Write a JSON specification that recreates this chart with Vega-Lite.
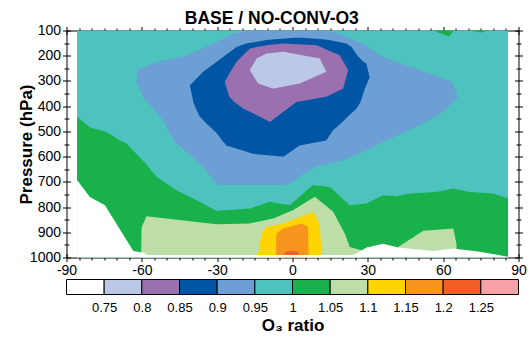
{
"$schema":"https://vega.github.io/schema/vega-lite/v6.json",
"padding":{"left":16.5,"top":9.5,"right":0,"bottom":0},
"title":{"text":"BASE / NO-CONV-O3","fontSize":17.5,"fontWeight":"bold","font":"Liberation Sans","anchor":"middle","offset":-4,"color":"black"},
"config":{"view":{"stroke":null},"axis":{"grid":false,"tickColor":"black","domainColor":"black","labelColor":"black","titleColor":"black","labelFont":"Liberation Sans","titleFont":"Liberation Sans","tickWidth":1,"domainWidth":1,"zindex":1,"labelOverlap":false,"labelBound":false,"labelFlush":false}},
"spacing":22,
"bounds":"flush",
"resolve":{"scale":{"x":"independent","y":"independent"}},
"datasets":{
"teal":[{"lat":-85.8,"top":100,"bot":1000,"v":0.975,"g":"t"},{"lat":85.8,"top":100,"bot":1000,"v":0.975,"g":"t"}],
"blue":[{"p":100,"l":-15.8,"r":14.5,"v":0.925},{"p":107,"l":-21,"r":16,"v":0.925},{"p":113,"l":-23.8,"r":18.5,"v":0.925},{"p":153,"l":-31.7,"r":28,"v":0.925},{"p":199,"l":-42.3,"r":35,"v":0.925},{"p":226,"l":-54.3,"r":41.6,"v":0.925},{"p":251,"l":-61,"r":49,"v":0.925},{"p":257,"l":-61.5,"r":50.7,"v":0.925},{"p":303,"l":-62.1,"r":63.3,"v":0.925},{"p":363,"l":-59.5,"r":66,"v":0.925},{"p":422,"l":-54.4,"r":60,"v":0.925},{"p":456,"l":-51.5,"r":54.3,"v":0.925},{"p":469,"l":-50.8,"r":52,"v":0.925},{"p":512,"l":-48.5,"r":42.7,"v":0.925},{"p":548,"l":-46.3,"r":34.8,"v":0.925},{"p":575,"l":-43,"r":29.5,"v":0.925},{"p":614,"l":-38.5,"r":20.2,"v":0.925},{"p":641,"l":-35.7,"r":8.9,"v":0.925},{"p":680,"l":-32.5,"r":2.8,"v":0.925},{"p":700,"l":-31,"r":0,"v":0.925},{"p":712,"l":-29.5,"r":-2,"v":0.925}],
"dkblue":[{"p":129,"l":1,"r":4,"v":0.875},{"p":135,"l":-7,"r":12,"v":0.875},{"p":138,"l":-10.4,"r":14.5,"v":0.875},{"p":152,"l":-18.5,"r":21.4,"v":0.875},{"p":165,"l":-22.3,"r":23.5,"v":0.875},{"p":200,"l":-27,"r":25.9,"v":0.875},{"p":225,"l":-30.3,"r":28.3,"v":0.875},{"p":231,"l":-31.1,"r":29.4,"v":0.875},{"p":264,"l":-35.6,"r":30.2,"v":0.875},{"p":285,"l":-37.7,"r":30.7,"v":0.875},{"p":317,"l":-40.9,"r":29.4,"v":0.875},{"p":330,"l":-40.6,"r":28.8,"v":0.875},{"p":383,"l":-39.5,"r":27.1,"v":0.875},{"p":409,"l":-38.5,"r":25.5,"v":0.875},{"p":440,"l":-37,"r":22.2,"v":0.875},{"p":470,"l":-34.2,"r":19.1,"v":0.875},{"p":495,"l":-31.4,"r":16.2,"v":0.875},{"p":505,"l":-30.3,"r":15.5,"v":0.875},{"p":536,"l":-28,"r":13.4,"v":0.875},{"p":548,"l":-27,"r":7,"v":0.875},{"p":556,"l":-26.4,"r":2.8,"v":0.875},{"p":570,"l":-21.7,"r":0.8,"v":0.875},{"p":589,"l":-15.8,"r":-1.9,"v":0.875},{"p":600,"l":-4.5,"r":-3.5,"v":0.875}],
"purple":[{"p":152,"l":-4,"r":-3.4,"v":0.825},{"p":158,"l":-10.4,"r":9.6,"v":0.825},{"p":171,"l":-17,"r":12.6,"v":0.825},{"p":198,"l":-19.7,"r":18.8,"v":0.825},{"p":224,"l":-22.3,"r":20.3,"v":0.825},{"p":257,"l":-24.3,"r":22.2,"v":0.825},{"p":303,"l":-27,"r":20.9,"v":0.825},{"p":330,"l":-26.2,"r":20.2,"v":0.825},{"p":363,"l":-25.2,"r":13.5,"v":0.825},{"p":383,"l":-23.2,"r":1.6,"v":0.825},{"p":409,"l":-19.6,"r":-1.9,"v":0.825},{"p":440,"l":-13.4,"r":-6,"v":0.825},{"p":462,"l":-9.2,"r":-8.8,"v":0.825}],
"lav":[{"p":184,"l":-4,"r":-3.4,"v":0.775},{"p":191,"l":-10.4,"r":0.1,"v":0.775},{"p":211,"l":-14.3,"r":10.9,"v":0.775},{"p":257,"l":-17,"r":13.1,"v":0.775},{"p":264,"l":-16.6,"r":13.5,"v":0.775},{"p":310,"l":-13.7,"r":2.9,"v":0.775},{"p":330,"l":-7.9,"r":-7.5,"v":0.775}],
"green":[
{"g":"g1","lat":-85.8,"top":441,"bot":1000,"v":1.025},{"g":"g1","lat":-80.7,"top":485,"bot":1000,"v":1.025},{"g":"g1","lat":-74.1,"top":502,"bot":1000,"v":1.025},{"g":"g1","lat":-68.8,"top":535,"bot":1000,"v":1.025},{"g":"g1","lat":-66.1,"top":548,"bot":1000,"v":1.025},{"g":"g1","lat":-58.3,"top":629,"bot":1000,"v":1.025},{"g":"g1","lat":-54.2,"top":680,"bot":1000,"v":1.025},{"g":"g1","lat":-46.2,"top":733,"bot":1000,"v":1.025},{"g":"g1","lat":-36.9,"top":779,"bot":1000,"v":1.025},{"g":"g1","lat":-30.3,"top":816,"bot":1000,"v":1.025},{"g":"g1","lat":-17,"top":806,"bot":1000,"v":1.025},{"g":"g1","lat":-9,"top":779,"bot":1000,"v":1.025},{"g":"g1","lat":-1.1,"top":793,"bot":1000,"v":1.025},{"g":"g1","lat":8.2,"top":713,"bot":1000,"v":1.025},{"g":"g1","lat":14.9,"top":720,"bot":1000,"v":1.025},{"g":"g1","lat":22.8,"top":793,"bot":1000,"v":1.025},{"g":"g1","lat":29.5,"top":786,"bot":1000,"v":1.025},{"g":"g1","lat":36.1,"top":753,"bot":1000,"v":1.025},{"g":"g1","lat":41.4,"top":757,"bot":1000,"v":1.025},{"g":"g1","lat":46.7,"top":746,"bot":1000,"v":1.025},{"g":"g1","lat":57.3,"top":740,"bot":1000,"v":1.025},{"g":"g1","lat":64,"top":726,"bot":1000,"v":1.025},{"g":"g1","lat":70.6,"top":740,"bot":1000,"v":1.025},{"g":"g1","lat":79.9,"top":746,"bot":1000,"v":1.025},{"g":"g1","lat":85.8,"top":766,"bot":1000,"v":1.025},
{"g":"g2","lat":56,"top":100,"bot":100,"v":1.025},{"g":"g2","lat":62.5,"top":100,"bot":125,"v":1.025},{"g":"g2","lat":64,"top":100,"bot":100,"v":1.025},
{"g":"g3","lat":70.5,"top":100,"bot":100,"v":1.025},{"g":"g3","lat":75,"top":100,"bot":108,"v":1.025},{"g":"g3","lat":78.5,"top":100,"bot":100,"v":1.025}],
"lgreen":[
{"g":"a","lat":-60.3,"top":1000,"bot":1000,"v":1.075},{"g":"a","lat":-60.1,"top":880,"bot":1000,"v":1.075},{"g":"a","lat":-58.1,"top":836,"bot":1000,"v":1.075},{"g":"a","lat":-50.2,"top":845,"bot":1000,"v":1.075},{"g":"a","lat":-30.3,"top":868,"bot":1000,"v":1.075},{"g":"a","lat":-17,"top":865,"bot":1000,"v":1.075},{"g":"a","lat":-7.7,"top":845,"bot":1000,"v":1.075},{"g":"a","lat":0.3,"top":812,"bot":1000,"v":1.075},{"g":"a","lat":8.9,"top":759,"bot":1000,"v":1.075},{"g":"a","lat":16.2,"top":819,"bot":1000,"v":1.075},{"g":"a","lat":20.8,"top":905,"bot":1000,"v":1.075},{"g":"a","lat":22.8,"top":958,"bot":1000,"v":1.075},{"g":"a","lat":28.2,"top":973,"bot":1000,"v":1.075},{"g":"a","lat":28.3,"top":1000,"bot":1000,"v":1.075},
{"g":"b","lat":42,"top":990,"bot":990,"v":1.075},{"g":"b","lat":42.1,"top":958,"bot":990,"v":1.075},{"g":"b","lat":52.1,"top":894,"bot":990,"v":1.075},{"g":"b","lat":64,"top":885,"bot":990,"v":1.075},{"g":"b","lat":65.3,"top":945,"bot":990,"v":1.075},{"g":"b","lat":65.4,"top":990,"bot":990,"v":1.075}],
"yellow":[{"lat":-13.9,"top":1000,"bot":1000,"v":1.125},{"lat":-13.7,"top":985,"bot":1000,"v":1.125},{"lat":-12.3,"top":905,"bot":1000,"v":1.125},{"lat":-10.4,"top":878,"bot":1000,"v":1.125},{"lat":-3.7,"top":865,"bot":1000,"v":1.125},{"lat":8.2,"top":819,"bot":1000,"v":1.125},{"lat":10.9,"top":865,"bot":1000,"v":1.125},{"lat":11.5,"top":984,"bot":1000,"v":1.125},{"lat":11.7,"top":1000,"bot":1000,"v":1.125}],
"orange":[{"lat":-6.6,"top":1000,"bot":1000,"v":1.175},{"lat":-6.4,"top":905,"bot":1000,"v":1.175},{"lat":-3.7,"top":885,"bot":1000,"v":1.175},{"lat":3.6,"top":865,"bot":1000,"v":1.175},{"lat":6.2,"top":878,"bot":1000,"v":1.175},{"lat":6.4,"top":1000,"bot":1000,"v":1.175}],
"red":[{"lat":-3.3,"top":1000,"bot":1000,"v":1.225},{"lat":-3,"top":978,"bot":1000,"v":1.225},{"lat":-0.3,"top":973,"bot":1000,"v":1.225},{"lat":2.3,"top":978,"bot":1000,"v":1.225},{"lat":2.6,"top":1000,"bot":1000,"v":1.225}],
"white":[{"lat":-85.8,"top":693,"bot":1000,"v":0.72},{"lat":-80.7,"top":760,"bot":1000,"v":0.72},{"lat":-74.7,"top":793,"bot":1000,"v":0.72},{"lat":-63.4,"top":974,"bot":1000,"v":0.72},{"lat":-59.2,"top":981,"bot":1000,"v":0.72},{"lat":-58,"top":990,"bot":1000,"v":0.72},{"lat":24,"top":990,"bot":1000,"v":0.72},{"lat":25.5,"top":984,"bot":1000,"v":0.72},{"lat":29.5,"top":960,"bot":1000,"v":0.72},{"lat":36.1,"top":945,"bot":1000,"v":0.72},{"lat":42.1,"top":960,"bot":1000,"v":0.72},{"lat":56,"top":974,"bot":1000,"v":0.72},{"lat":64,"top":964,"bot":1000,"v":0.72},{"lat":74.6,"top":977,"bot":1000,"v":0.72},{"lat":85.8,"top":997,"bot":1000,"v":0.72}],
"bar":[{"a":0.7,"b":0.75,"v":0.725},{"a":0.75,"b":0.8,"v":0.775},{"a":0.8,"b":0.85,"v":0.825},{"a":0.85,"b":0.9,"v":0.875},{"a":0.9,"b":0.95,"v":0.925},{"a":0.95,"b":1,"v":0.975},{"a":1,"b":1.05,"v":1.025},{"a":1.05,"b":1.1,"v":1.075},{"a":1.1,"b":1.15,"v":1.125},{"a":1.15,"b":1.2,"v":1.175},{"a":1.2,"b":1.25,"v":1.225},{"a":1.25,"b":1.3,"v":1.275}],
"dummy":[{"x":0,"p":500}]
},
"vconcat":[
{"width":452,"height":227,
"resolve":{"axis":{"x":"independent","y":"independent"}},
"layer":[
{"data":{"name":"teal"},"mark":{"type":"area","orient":"vertical"},
"encoding":{
"x":{"field":"lat","type":"quantitative","scale":{"domain":[-90,90],"nice":false,"zero":false},"axis":{"orient":"bottom","values":[-90,-60,-30,0,30,60,90],"offset":-4,"tickSize":8,"domain":false,"labelFontSize":14,"labelPadding":2,"labelExpr":"''+datum.value","title":null}},
"y":{"field":"top","type":"quantitative","scale":{"domain":[100,1000],"nice":false,"zero":false,"reverse":true},"axis":{"orient":"left","values":[100,200,300,400,500,600,700,800,900,1000],"offset":-4,"tickSize":8,"domain":false,"labelFontSize":14,"labelPadding":2,"labelExpr":"''+datum.value","title":"Pressure (hPa)","titleFontSize":17,"titleFontWeight":"bold","titlePadding":-6}},
"y2":{"field":"bot"},
"color":{"field":"v","type":"quantitative","scale":{"type":"threshold","domain":[0.75,0.8,0.85,0.9,0.95,1,1.05,1.1,1.15,1.2,1.25],"range":["#ffffff","#bbc8e6","#9a70ae","#0055a5","#6c9fd4","#4ec2be","#19b14c","#bedea8","#ffd500","#f7941e","#f15e26","#f5a1a6"]},"legend":null}
}},
{"data":{"name":"blue"},"mark":{"type":"area","orient":"horizontal"},
"encoding":{
"y":{"field":"p","type":"quantitative","scale":{"domain":[100,1000],"nice":false,"zero":false,"reverse":true},"axis":null},
"x":{"field":"l","type":"quantitative","scale":{"domain":[-90,90],"nice":false,"zero":false},"axis":null},
"x2":{"field":"r"},
"color":{"field":"v","type":"quantitative","scale":{"type":"threshold","domain":[0.75,0.8,0.85,0.9,0.95,1,1.05,1.1,1.15,1.2,1.25],"range":["#ffffff","#bbc8e6","#9a70ae","#0055a5","#6c9fd4","#4ec2be","#19b14c","#bedea8","#ffd500","#f7941e","#f15e26","#f5a1a6"]},"legend":null}
}},
{"data":{"name":"dkblue"},"mark":{"type":"area","orient":"horizontal"},
"encoding":{
"y":{"field":"p","type":"quantitative","scale":{"domain":[100,1000],"nice":false,"zero":false,"reverse":true},"axis":null},
"x":{"field":"l","type":"quantitative","scale":{"domain":[-90,90],"nice":false,"zero":false},"axis":null},
"x2":{"field":"r"},
"color":{"field":"v","type":"quantitative","scale":{"type":"threshold","domain":[0.75,0.8,0.85,0.9,0.95,1,1.05,1.1,1.15,1.2,1.25],"range":["#ffffff","#bbc8e6","#9a70ae","#0055a5","#6c9fd4","#4ec2be","#19b14c","#bedea8","#ffd500","#f7941e","#f15e26","#f5a1a6"]},"legend":null}
}},
{"data":{"name":"purple"},"mark":{"type":"area","orient":"horizontal"},
"encoding":{
"y":{"field":"p","type":"quantitative","scale":{"domain":[100,1000],"nice":false,"zero":false,"reverse":true},"axis":null},
"x":{"field":"l","type":"quantitative","scale":{"domain":[-90,90],"nice":false,"zero":false},"axis":null},
"x2":{"field":"r"},
"color":{"field":"v","type":"quantitative","scale":{"type":"threshold","domain":[0.75,0.8,0.85,0.9,0.95,1,1.05,1.1,1.15,1.2,1.25],"range":["#ffffff","#bbc8e6","#9a70ae","#0055a5","#6c9fd4","#4ec2be","#19b14c","#bedea8","#ffd500","#f7941e","#f15e26","#f5a1a6"]},"legend":null}
}},
{"data":{"name":"lav"},"mark":{"type":"area","orient":"horizontal"},
"encoding":{
"y":{"field":"p","type":"quantitative","scale":{"domain":[100,1000],"nice":false,"zero":false,"reverse":true},"axis":null},
"x":{"field":"l","type":"quantitative","scale":{"domain":[-90,90],"nice":false,"zero":false},"axis":null},
"x2":{"field":"r"},
"color":{"field":"v","type":"quantitative","scale":{"type":"threshold","domain":[0.75,0.8,0.85,0.9,0.95,1,1.05,1.1,1.15,1.2,1.25],"range":["#ffffff","#bbc8e6","#9a70ae","#0055a5","#6c9fd4","#4ec2be","#19b14c","#bedea8","#ffd500","#f7941e","#f15e26","#f5a1a6"]},"legend":null}
}},
{"data":{"name":"green"},"mark":{"type":"area","orient":"vertical"},
"encoding":{
"x":{"field":"lat","type":"quantitative","scale":{"domain":[-90,90],"nice":false,"zero":false},"axis":null},
"y":{"field":"top","type":"quantitative","scale":{"domain":[100,1000],"nice":false,"zero":false,"reverse":true},"axis":null},
"y2":{"field":"bot"},
"detail":{"field":"g"},
"color":{"field":"v","type":"quantitative","scale":{"type":"threshold","domain":[0.75,0.8,0.85,0.9,0.95,1,1.05,1.1,1.15,1.2,1.25],"range":["#ffffff","#bbc8e6","#9a70ae","#0055a5","#6c9fd4","#4ec2be","#19b14c","#bedea8","#ffd500","#f7941e","#f15e26","#f5a1a6"]},"legend":null}
}},
{"data":{"name":"lgreen"},"mark":{"type":"area","orient":"vertical"},
"encoding":{
"x":{"field":"lat","type":"quantitative","scale":{"domain":[-90,90],"nice":false,"zero":false},"axis":null},
"y":{"field":"top","type":"quantitative","scale":{"domain":[100,1000],"nice":false,"zero":false,"reverse":true},"axis":null},
"y2":{"field":"bot"},
"detail":{"field":"g"},
"color":{"field":"v","type":"quantitative","scale":{"type":"threshold","domain":[0.75,0.8,0.85,0.9,0.95,1,1.05,1.1,1.15,1.2,1.25],"range":["#ffffff","#bbc8e6","#9a70ae","#0055a5","#6c9fd4","#4ec2be","#19b14c","#bedea8","#ffd500","#f7941e","#f15e26","#f5a1a6"]},"legend":null}
}},
{"data":{"name":"yellow"},"mark":{"type":"area","orient":"vertical"},
"encoding":{
"x":{"field":"lat","type":"quantitative","scale":{"domain":[-90,90],"nice":false,"zero":false},"axis":null},
"y":{"field":"top","type":"quantitative","scale":{"domain":[100,1000],"nice":false,"zero":false,"reverse":true},"axis":null},
"y2":{"field":"bot"},
"color":{"field":"v","type":"quantitative","scale":{"type":"threshold","domain":[0.75,0.8,0.85,0.9,0.95,1,1.05,1.1,1.15,1.2,1.25],"range":["#ffffff","#bbc8e6","#9a70ae","#0055a5","#6c9fd4","#4ec2be","#19b14c","#bedea8","#ffd500","#f7941e","#f15e26","#f5a1a6"]},"legend":null}
}},
{"data":{"name":"orange"},"mark":{"type":"area","orient":"vertical"},
"encoding":{
"x":{"field":"lat","type":"quantitative","scale":{"domain":[-90,90],"nice":false,"zero":false},"axis":null},
"y":{"field":"top","type":"quantitative","scale":{"domain":[100,1000],"nice":false,"zero":false,"reverse":true},"axis":null},
"y2":{"field":"bot"},
"color":{"field":"v","type":"quantitative","scale":{"type":"threshold","domain":[0.75,0.8,0.85,0.9,0.95,1,1.05,1.1,1.15,1.2,1.25],"range":["#ffffff","#bbc8e6","#9a70ae","#0055a5","#6c9fd4","#4ec2be","#19b14c","#bedea8","#ffd500","#f7941e","#f15e26","#f5a1a6"]},"legend":null}
}},
{"data":{"name":"red"},"mark":{"type":"area","orient":"vertical"},
"encoding":{
"x":{"field":"lat","type":"quantitative","scale":{"domain":[-90,90],"nice":false,"zero":false},"axis":null},
"y":{"field":"top","type":"quantitative","scale":{"domain":[100,1000],"nice":false,"zero":false,"reverse":true},"axis":null},
"y2":{"field":"bot"},
"color":{"field":"v","type":"quantitative","scale":{"type":"threshold","domain":[0.75,0.8,0.85,0.9,0.95,1,1.05,1.1,1.15,1.2,1.25],"range":["#ffffff","#bbc8e6","#9a70ae","#0055a5","#6c9fd4","#4ec2be","#19b14c","#bedea8","#ffd500","#f7941e","#f15e26","#f5a1a6"]},"legend":null}
}},
{"data":{"name":"white"},"mark":{"type":"area","orient":"vertical"},
"encoding":{
"x":{"field":"lat","type":"quantitative","scale":{"domain":[-90,90],"nice":false,"zero":false},"axis":null},
"y":{"field":"top","type":"quantitative","scale":{"domain":[100,1000],"nice":false,"zero":false,"reverse":true},"axis":null},
"y2":{"field":"bot"},
"color":{"field":"v","type":"quantitative","scale":{"type":"threshold","domain":[0.75,0.8,0.85,0.9,0.95,1,1.05,1.1,1.15,1.2,1.25],"range":["#ffffff","#bbc8e6","#9a70ae","#0055a5","#6c9fd4","#4ec2be","#19b14c","#bedea8","#ffd500","#f7941e","#f15e26","#f5a1a6"]},"legend":null}
}},
{"data":{"name":"dummy"},"mark":{"type":"point","opacity":0},
"encoding":{
"x":{"field":"x","type":"quantitative","scale":{"domain":[-90,90],"nice":false,"zero":false},"axis":{"orient":"bottom","values":[-85,-80,-75,-70,-65,-55,-50,-45,-40,-35,-25,-20,-15,-10,-5,5,10,15,20,25,35,40,45,50,55,65,70,75,80,85],"offset":-2.5,"tickSize":5,"domain":false,"labels":false,"title":null}},
"y":{"field":"p","type":"quantitative","scale":{"domain":[100,1000],"nice":false,"zero":false,"reverse":true},"axis":{"orient":"left","values":[150,250,350,450,550,650,750,850,950],"offset":-2.5,"tickSize":5,"domain":false,"labels":false,"title":null}}
}},
{"data":{"name":"dummy"},"mark":{"type":"point","opacity":0},
"encoding":{
"x":{"field":"x","type":"quantitative","scale":{"domain":[-90,90],"nice":false,"zero":false},"axis":{"orient":"top","values":[-90,-60,-30,0,30,60,90],"offset":-4,"tickSize":8,"domain":false,"labels":false,"title":null}},
"y":{"field":"p","type":"quantitative","scale":{"domain":[100,1000],"nice":false,"zero":false,"reverse":true},"axis":{"orient":"right","values":[100,200,300,400,500,600,700,800,900,1000],"offset":-4,"tickSize":8,"domain":false,"labels":false,"title":null}}
}},
{"data":{"name":"dummy"},"mark":{"type":"point","opacity":0},
"encoding":{
"x":{"field":"x","type":"quantitative","scale":{"domain":[-90,90],"nice":false,"zero":false},"axis":{"orient":"top","values":[-85,-80,-75,-70,-65,-55,-50,-45,-40,-35,-25,-20,-15,-10,-5,5,10,15,20,25,35,40,45,50,55,65,70,75,80,85],"offset":-2.5,"tickSize":5,"domain":false,"labels":false,"title":null}},
"y":{"field":"p","type":"quantitative","scale":{"domain":[100,1000],"nice":false,"zero":false,"reverse":true},"axis":{"orient":"right","values":[150,250,350,450,550,650,750,850,950],"offset":-2.5,"tickSize":5,"domain":false,"labels":false,"title":null}}
}},
{"data":{"name":"dummy"},"mark":{"type":"point","opacity":0},
"encoding":{
"x":{"field":"x","type":"quantitative","scale":{"domain":[-90,90],"nice":false,"zero":false},"axis":{"orient":"bottom","ticks":false,"labels":false,"domain":true,"title":null}},
"y":{"field":"p","type":"quantitative","scale":{"domain":[100,1000],"nice":false,"zero":false,"reverse":true},"axis":{"orient":"left","ticks":false,"labels":false,"domain":true,"title":null}}
}},
{"data":{"name":"dummy"},"mark":{"type":"point","opacity":0},
"encoding":{
"x":{"field":"x","type":"quantitative","scale":{"domain":[-90,90],"nice":false,"zero":false},"axis":{"orient":"top","ticks":false,"labels":false,"domain":true,"title":null}},
"y":{"field":"p","type":"quantitative","scale":{"domain":[100,1000],"nice":false,"zero":false,"reverse":true},"axis":{"orient":"right","ticks":false,"labels":false,"domain":true,"title":null}}
}}
]},
{"width":452,"height":15,
"data":{"name":"bar"},
"mark":{"type":"rect","stroke":"black","strokeWidth":1},
"encoding":{
"x":{"field":"a","type":"quantitative","scale":{"domain":[0.7,1.3],"nice":false,"zero":false},"axis":{"orient":"bottom","values":[0.75,0.8,0.85,0.9,0.95,1,1.05,1.1,1.15,1.2,1.25],"format":".2~f","ticks":false,"domain":false,"labelFontSize":13,"labelPadding":7,"title":"O₃ ratio","titleFontSize":17,"titleFontWeight":"bold","titlePadding":3}},
"x2":{"field":"b"},
"color":{"field":"v","type":"quantitative","scale":{"type":"threshold","domain":[0.75,0.8,0.85,0.9,0.95,1,1.05,1.1,1.15,1.2,1.25],"range":["#ffffff","#bbc8e6","#9a70ae","#0055a5","#6c9fd4","#4ec2be","#19b14c","#bedea8","#ffd500","#f7941e","#f15e26","#f5a1a6"]},"legend":null}
}}
]
}
